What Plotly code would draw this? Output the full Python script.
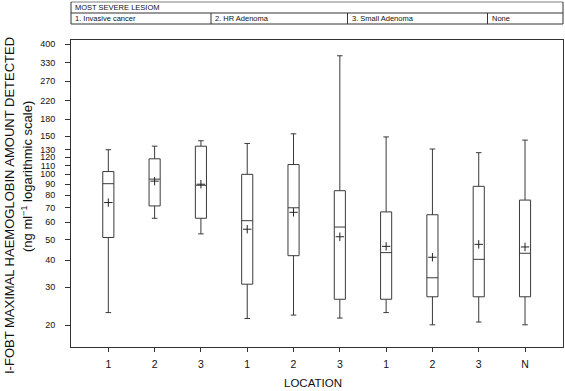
import plotly.graph_objects as go

# Data (ng/ml)
positions = [0, 1, 2, 3, 4, 5, 6, 7, 8, 9]
tick_labels = ["1", "2", "3", "1", "2", "3", "1", "2", "3", "N"]
upper_whisker = [130, 135, 143, 139, 154, 354, 149, 131, 126, 144]
q3_values = [103, 118, 135, 100, 111, 84, 67, 65, 88, 76]
median_values = [90.5, 95, 89, 61, 70, 57, 43.4, 33.2, 40.4, 43.1]
q1_values = [51, 71.4, 62.6, 31, 42, 26.4, 26.4, 27.1, 27.1, 27.1]
lower_whisker = [22.9, 62.6, 53, 21.5, 22.3, 21.6, 22.9, 20.1, 20.7, 20.1]
mean_values = [74, 93, 90, 55.7, 66.7, 51.4, 46.4, 41.3, 47.4, 46.1]

y_ticks = [20, 30, 40, 50, 60, 70, 80, 90, 100, 110, 120, 130, 150, 180, 220, 270, 330, 400]

header_title = "MOST SEVERE LESIOM"
header_cells = ["1. Invasive cancer", "2. HR Adenoma", "3. Small Adenoma", "None"]

W, H = 565, 391
L, R, T, B = 71, 563, 40, 347
pw, ph = R - L, B - T

def px(x):
    return (x - L) / pw

def py(y):
    return (B - y) / ph

fig = go.Figure()
fig.add_trace(go.Box(
    x=positions,
    q1=q1_values, median=median_values, q3=q3_values,
    lowerfence=lower_whisker, upperfence=upper_whisker,
    width=0.24, whiskerwidth=0.5,
    fillcolor="white",
    line=dict(color="#3a3a3a", width=1),
    boxpoints=False,
    showlegend=False,
    hoverinfo="skip",
))
fig.add_trace(go.Scatter(
    x=positions, y=mean_values, mode="markers",
    marker=dict(symbol="cross-thin", size=6, line=dict(color="#222", width=1), color="#222"),
    showlegend=False, hoverinfo="skip",
))

font_fam = "Liberation Sans, Arial, sans-serif"

fig.update_layout(
    width=W, height=H,
    margin=dict(l=L, r=W - R, t=T, b=H - B, autoexpand=False),
    paper_bgcolor="white", plot_bgcolor="white",
    font=dict(family=font_fam, color="#111", size=10),
    xaxis=dict(
        range=[-0.806, 9.82],
        tickvals=positions, ticktext=tick_labels,
        showline=True, linecolor="#333", linewidth=1, mirror=True,
        ticks="outside", ticklen=4, tickcolor="#333",
        showgrid=False, zeroline=False, automargin=False,
        tickfont=dict(size=10.5), ticklabelstandoff=3,
    ),
    yaxis=dict(
        type="log",
        range=[1.2005, 2.622],
        tickvals=y_ticks, ticktext=[str(v) for v in y_ticks],
        showline=True, linecolor="#333", linewidth=1, mirror=True,
        ticks="outside", ticklen=5, tickcolor="#333",
        showgrid=False, zeroline=False, automargin=False,
        tickfont=dict(size=9), ticklabelstandoff=8,
    ),
)

# X-axis title
fig.add_annotation(
    x=px(313), y=py(383), xref="paper", yref="paper",
    text="LOCATION", showarrow=False, font=dict(size=11.5),
    xanchor="center", yanchor="middle",
)

# Y-axis titles (two lines)
fig.add_annotation(
    x=px(9), y=py(206), xref="paper", yref="paper",
    text="I-FOBT MAXIMAL HAEMOGLOBIN AMOUNT DETECTED",
    textangle=-90, showarrow=False, font=dict(size=13),
    xanchor="center", yanchor="middle",
)
fig.add_annotation(
    x=px(27), y=py(177), xref="paper", yref="paper",
    text="(ng ml<sup>\u22121</sup> logarithmic scale)",
    textangle=-90, showarrow=False, font=dict(size=13),
    xanchor="center", yanchor="middle",
)

# Header table
top, mid, bot = 2, 13, 24
dividers = [L, 211, 347.5, 487.5, R]
shapes = []
shapes.append(dict(type="line", xref="paper", yref="paper", x0=px(L), x1=px(R), y0=py(top), y1=py(top), line=dict(color="#aaaaaa", width=1.5)))
shapes.append(dict(type="line", xref="paper", yref="paper", x0=px(L), x1=px(R), y0=py(mid), y1=py(mid), line=dict(color="#333", width=1)))
shapes.append(dict(type="line", xref="paper", yref="paper", x0=px(L), x1=px(R), y0=py(bot), y1=py(bot), line=dict(color="#333", width=1)))
shapes.append(dict(type="line", xref="paper", yref="paper", x0=px(L), x1=px(L), y0=py(top), y1=py(bot), line=dict(color="#333", width=1)))
shapes.append(dict(type="line", xref="paper", yref="paper", x0=px(R), x1=px(R), y0=py(top), y1=py(bot), line=dict(color="#333", width=1)))
for d in dividers[1:-1]:
    shapes.append(dict(type="line", xref="paper", yref="paper", x0=px(d), x1=px(d), y0=py(mid), y1=py(bot), line=dict(color="#333", width=1)))
fig.update_layout(shapes=shapes)

fig.add_annotation(x=px(L + 2), y=py((top + mid) / 2), xref="paper", yref="paper",
                   text=header_title, showarrow=False, xanchor="left", yanchor="middle",
                   font=dict(size=7.5))
for i, label in enumerate(header_cells):
    fig.add_annotation(x=px(dividers[i] + 2), y=py((mid + bot) / 2), xref="paper", yref="paper",
                       text=label, showarrow=False, xanchor="left", yanchor="middle",
                       font=dict(size=7.5))

fig.write_html("out.html", config={"displayModeBar": False},
               post_script="document.body.style.margin='0';document.body.style.overflow='hidden';")
